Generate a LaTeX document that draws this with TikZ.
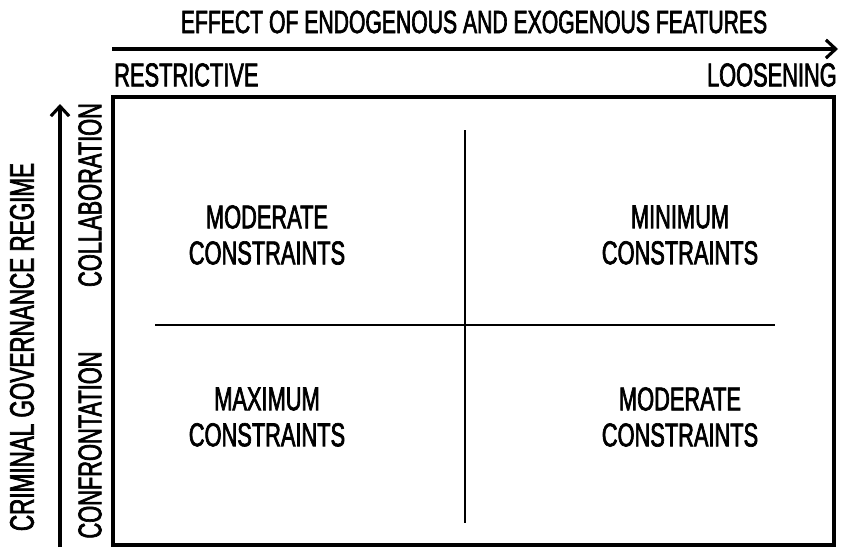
\documentclass[tikz,border=0pt]{standalone}
\usepackage{fontspec}
\setmainfont{Liberation Sans}[FakeStretch=0.66, FakeBold=2]
\usetikzlibrary{arrows.meta, positioning}

\tikzset{
    axislabel/.style={font=\fontsize{22.8}{26}\selectfont, inner sep=0pt},
    endlabel/.style={font=\fontsize{23.5}{27}\selectfont, inner sep=0pt},
    quadlabel/.style={font=\fontsize{23.5}{25.6}\selectfont, align=center, inner sep=0pt},
    axisarrow/.style={line width=2.2pt, -{Straight Barb[length=7pt, width=13pt, line width=2.2pt]}},
}

\begin{document}
\begin{tikzpicture}[x=0.025cm, y=-0.025cm]
    \useasboundingbox (0,0) rectangle (841,548);

    % Frame and the two dividing lines
    \draw[line width=3pt] (113,97) rectangle (834,545);
    \coordinate (vtop) at (465,130);
    \coordinate (vbot) at (465,523);
    \coordinate (hleft) at (155,325);
    \coordinate (hright) at (775,325);
    \draw[line width=1.6pt] (vtop) -- (vbot);
    \draw[line width=1.6pt] (hleft) -- (hright);

    % Horizontal axis
    \coordinate (xstart) at (112,49);
    \coordinate (xend) at (838,49);
    \draw[axisarrow] (xstart) -- (xend);
    \node[axislabel] (xtitle) at (474,22) {EFFECT OF ENDOGENOUS AND EXOGENOUS FEATURES};
    \node[endlabel, anchor=west] (restrictive) at (114,75) {RESTRICTIVE};
    \node[endlabel, anchor=east] (loosening) at (837,75) {LOOSENING};

    % Vertical axis
    \coordinate (ystart) at (60,547);
    \coordinate (yend) at (60,104);
    \draw[axisarrow] (ystart) -- (yend);
    \node[axislabel, font=\fontsize{24.2}{28}\selectfont, rotate=90] (ytitle) at (22,347) {CRIMINAL GOVERNANCE REGIME};
    \node[endlabel, rotate=90] (collab) at (90,195) {COLLABORATION};
    \node[endlabel, rotate=90] (confront) at (90,445) {CONFRONTATION};

    % Quadrants
    \node[quadlabel] (topleft) at (267,235) {MODERATE\\CONSTRAINTS};
    \node[quadlabel] (topright) at (680,235) {MINIMUM\\CONSTRAINTS};
    \node[quadlabel] (botleft) at (267,417) {MAXIMUM\\CONSTRAINTS};
    \node[quadlabel] (botright) at (680,417) {MODERATE\\CONSTRAINTS};
\end{tikzpicture}
\end{document}
